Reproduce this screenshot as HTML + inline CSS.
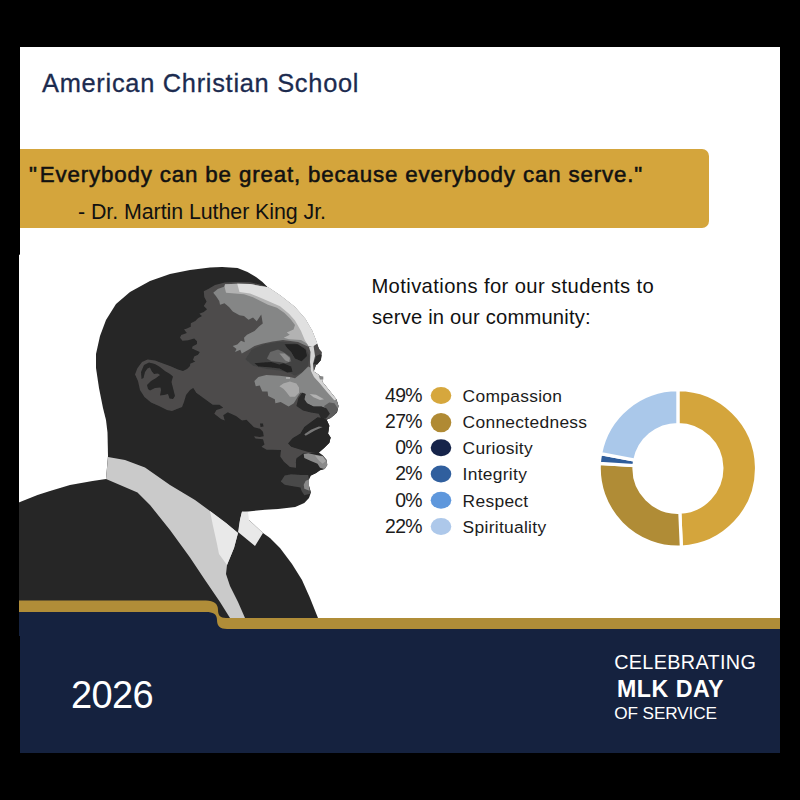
<!DOCTYPE html>
<html><head><meta charset="utf-8">
<style>
html,body{margin:0;padding:0;background:#000;}
body{width:800px;height:800px;position:relative;overflow:hidden;font-family:"Liberation Sans",sans-serif;}
#card{position:absolute;left:20px;top:47px;width:760px;height:706px;background:#fff;}
.t{position:absolute;white-space:nowrap;line-height:1;transform-origin:0 0;}
#banner{position:absolute;left:20px;top:149.2px;width:689px;height:78.4px;background:#d4a53c;border-radius:0 7px 7px 0;}
svg{position:absolute;left:0;top:0;}
.pc{font-size:19.4px;color:#1c1c1c;letter-spacing:-0.6px;}
.lb{font-size:17.4px;color:#1c1c1c;letter-spacing:0.3px;margin-top:0.7px;}
</style></head><body>
<div id="card"></div>
<div id="banner"></div>
<svg id="art" width="800" height="800" viewBox="0 0 800 800">
<rect x="19" y="254.7" width="2" height="380" fill="#fff"/>
<defs><filter id="soft" x="-5%" y="-5%" width="110%" height="110%"><feGaussianBlur stdDeviation="0.35"/></filter></defs>
<!-- PORTRAIT -->
<g id="portrait" filter="url(#soft)">
<polygon points="268,287.5 280.5,296 294.5,307 305,319 312,331 317,343.5 319,349 321.6,352 321,360 316,365 313.7,371.5 319,375 323,379 322.5,382 329.5,390.7 336.5,399.5 338.5,406 337,412.6 330.6,417.9 326.6,419.8 329.3,425.7 328,433.6 330.6,437.5 329.3,442.8 324,448 318.8,452.6 322.7,455.2 326.6,459.8 327.3,465 324.7,469 320,470.3 316.1,473 310.9,475.6 309,479.5 309,486 310.9,492.6 309,497.9 304.3,503 295.2,507 278.1,509 265,509.7 248,511.5 242,512 240,520 239,529 249,520 263,533 270,538 280,548 292,564 302,580 310,598 318,618 318,632 10,632 10,506 37.5,495 50,491 70,485 92.5,481 106,479 108,456 107.5,432.5 106,420 103,408 99,388 96,368 96,354 100,336 106,320 116,304 130,292 150,281 170,274 190,270 210,267.6 222,267 237.5,268 247.5,272 256,277 262.5,282" fill="#262626" />
<polygon points="108,457 125,460 145,467.5 170,485 195,500 210,511 226,523 238,533 234,548 227,565 226,574 230,586 238,602 245,618 247,632 236,632 230,618 220,602 205,580 190,557.5 170,530 150,505 137.5,492.5 120,485 106,479" fill="#cacaca" />
<polygon points="210,511 226,523 238,533 234,548 227,565 219,554 217,544 213,526" fill="#e9e9e9" />
<polygon points="242,511.6 248,512 249,520 263,533 255,546 238,532 240,520" fill="#e9e9e9" />
<polygon points="260,284.4 250,282.25 237.5,282 225,282.5 215,285 208.3,289 203.8,291.25 204.3,296.9 206.6,301.4 203.8,305.9 207.1,309.3 203.8,312 199.3,313.8 202,316 198,318.3 195.3,321 190.8,323.3 190.8,326.7 186.9,328.4 184,329.5 186.9,332.9 181.25,335 180,337.4 182.4,340.8 188,340.2 194.2,338.5 197,341.3 197,344 192.5,346.4 192,348.6 195.9,350.3 199.8,352 198,354.8 194.2,356.5 193,360 195.3,361.6 190.3,363.8 190,366 187,369 183,371 178,369.5 170,366 163,363.5 155,360.5 147.5,359.5 142,362 137.5,368 135,374.5 138,381 140,390 144.5,397 151,402.5 159,406 167,410 172,411 177,409 182,407 184,402 186,395 190,390 194,387.5 192.5,386.75 196.25,392.75 204.5,398.75 212.75,404.75 219.5,404.75 223.25,407.75 216.5,410 214.25,413.75 221,419 224.75,420.5 223.25,415.25 227.75,412.25 236,416 242,420.5 246.5,419.75 251,424.25 254,427.25 260,428.75 263,431.75 263.75,436.25 260,437 254,436.25 255.5,438.5 263,439.25 264.5,444.5 261.5,446.75 266.75,449.75 272,449.75 281,450 280.25,456.5 284,461.75 290,467 296,467.75 296.75,458 303,453.5 318.8,452.6 324,448 329.3,442.8 330.6,437.5 328,433.6 329.3,425.7 326.6,419.8 330.6,417.9 337,412.6 338.5,406 336.5,399.5 329.5,390.7 322.5,382 323,379 319,375 313.7,371.5 316,365 321,360 321.6,352 319,349 317,343.5 312,331 305,319 294.5,307 280.5,296 268,287.5" fill="#4d4c4c" />
<polygon points="213.25,292.75 217.75,289 224.5,286.5 225,284.2 237.5,283.8 250,284 260,286 268.3,287.2 280.8,295.7 294.8,306.7 305.3,318.7 312.3,330.8 317.3,343.5 309,347 298,342 283,340 272.5,341.5 262,343.75 254.5,346 248.5,349.75 241.75,353.5 240.25,349.75 235,352 236.5,349 232.75,346 237.25,344.5 241,340.75 244.75,342.25 244,337.75 247,334.75 254.5,331 259,326.5 262.75,323.5 261.25,314.5 256.75,321.25 253,317.5 248.5,319.75 244,316 239.5,315.25 232.75,311.5 229,307 224.5,303.25 220,304.75 219.25,301 216.25,296.5" fill="#858686" />
<polygon points="224.5,286.5 225,284.2 237.5,283.8 250,284 260,286 268.3,287.2 280.8,295.7 294.8,306.7 305.3,318.7 312.3,330.8 317.3,343.5 311,346 301,340 289,339.25 283.75,337.75 289.75,334.75 286.75,332.5 293.5,329.5 295,325 290.5,319 284.5,313 277,307.75 268,304.75 259,300.25 253,297.25 244,294.25 235,293.5 226,292.75" fill="#b2b2b2" />
<polygon points="237.25,283.8 250,284 260,286 268.3,287.2 280.8,295.7 294.8,306.7 305.3,318.7 312.3,330.8 317.3,343.5 313,346.5 308.5,346 304.75,340 301,331 295,320.5 289,313.75 280,306.25 268,301 257.5,296.5 250,293.5 239.5,292" fill="#e0e0e0" />
<polygon points="245.25,359.3 251.8,349.4 263.6,344.2 279.4,341.6 295,342.9 305.6,348.1 309.6,356 308.25,365.2 303,371.75 295,375.7 289.9,373 279.4,370.4 266.25,369.1 253,365.8" fill="#434343" />
<polygon points="284.6,344.2 297.75,344.2 305.6,349.4 307,356 301.7,361.25 295,358.6 291.2,352 287.25,348" fill="#212121" />
<polygon points="254.4,363.2 262.3,362.6 271.5,361.9 279.4,364.5 283.3,363.2 291.2,366.5 292.5,371.75 287.25,372.4 279.4,368.5 268.9,367.2 258.4,366.5" fill="#232323" />
<polygon points="266.9,358.6 270.2,352 278,349.4 283.3,352 289.9,356.7 291.2,361.25 285.9,363.2 279.4,361.9 271.5,361.25" fill="#666666" />
<polygon points="279.4,353.4 284.6,353.4 289.9,358 289.2,361.9 285.3,360.6" fill="#8e8e8e" />
<polygon points="254.4,380.9 258.4,377 266.25,375 279.4,375.7 289.9,377 295,378.3 301.7,373 308.25,366.5 310.9,367.8 313.7,371.5 319,375 323,379 322.5,382 329.5,390.7 336.5,399.5 338.5,406 337.8,408.5 326.6,408.5 321.4,406.5 313.5,406.5 307,403.25 304.3,399.3 305.6,394 302.3,392.75 300.4,392.75 297.75,396.7 293.8,403.25 288.6,406.5 280.7,402 275.4,403.25 274.8,399.3 268.2,396 267.6,391.4 262.3,391.4 259.7,385.5 255.75,386.2" fill="#858686" />
<polygon points="279.4,386.2 283.3,383.6 289.9,381.6 296.4,383.6 299,387.5 299,392.75 295,396.7 289.9,396.7 285.9,391.4 283.3,388.8" fill="#a9a9a9" />
<polygon points="286,377 290,377 290,379 286,379" fill="#a9a9a9" />
<polygon points="309,347 313.5,345.5 315,356 313,364 313.7,371.5 319,375 323,379 322.5,382 329.5,390.7 336.5,399.5 334.3,400.3 327,392 319.5,383 314,377 311,371 310,362 310.5,352" fill="#d4d4d4" />
<polygon points="318.75,375.7 323.3,376.5 323.3,379.6 320,379.5" fill="#858686" />
<polygon points="313.5,363.9 316.1,356 320,354.2 321.6,355 320.7,360 317.4,364.5" fill="#2b2b2b" />
<polygon points="309.6,394 316.1,394.7 324,399.3 320,400 313.5,397.3" fill="#b2b2b2" />
<polygon points="324,405.9 329.25,402.6 334.5,403.25 337.8,408.5 337,411 334.5,415 330.6,417.7 326,419 325.3,408.5" fill="#5c5c5c" />
<polygon points="296.4,405.9 298.4,398 302.3,392.75 305.6,394 304.3,399.3 307,403.25 313.5,406.5 321.4,406.5 326.6,408.5 329.9,413.75 326,418.5 321.4,419 318.75,413.75 310.9,412.4 303,410.5" fill="#292929" />
<polygon points="288,443.4 292.5,438.2 300.4,433.6 304.3,427 309.6,423.1 317.5,417.2 322.7,417.9 326.6,419.8 329.3,425.7 328,433.6 330.6,437.5 329.3,442.8 324,448 318.8,452.6 317.5,453.3 308.3,452 299.1,449.3 291.2,446.7" fill="#252525" />
<polygon points="304.3,434.3 310.9,429.7 318.8,426.4 322.7,427 314.8,430.6 305.7,435.8" fill="#777777" />
<polygon points="296.5,458.5 303,457.2 310.9,461.1 317.5,463.8 320,467.7 324,469 320,470.3 316.1,473 310.9,475.6 308.3,474.9 301.7,474.3 297.1,467.7 295.8,462.5" fill="#262626" />
<polygon points="303.7,453.9 308.3,453.3 317.5,455.2 322.7,455.9 326.6,460.5 327.3,465 324.7,469 324,469 320,467.7 317.5,463.8 310.9,461.1 304.3,457.9" fill="#8a8a8a" />
<polygon points="314.8,455.2 322.7,456.6 326,461.1 322.7,463.8 318.8,460.5" fill="#a5a5a5" />
<polygon points="280.7,481.5 284.7,475.6 291.2,474.3 301.7,474.9 308.3,474.9 309,479.5 309,486 310.9,492.6 309.6,493.9 304.3,495.2 301.7,491.3 300.4,487.4 291.2,486 284.7,484.75" fill="#484848" />
<polygon points="305.7,480.8 309,479.5 309,486 309.5,490.7 304.3,488.7 303.7,484.75" fill="#888888" />
<polygon points="141.5,379 141,372 144,365 149,362.5 155,364 160,367 165,371 170,374 173,376.5 171.5,382 173,388 174,392 175,396 173,399 169.5,398.5 168,394 164,395 160,395.5 161,390 160.5,387.5 155,388 150,390.5 148,389 147,385 151,381 156,378 160,375 158,373.5 154,374 151.5,371 150,367.5 147.5,368.5 145,372 143.5,378" fill="#262626" />
<polygon points="260,423.5 263,423.5 263.5,426.5 260.5,427" fill="#262626" />
</g>
<rect x="0" y="254.7" width="19" height="400" fill="#000"/>
<!-- FOOTER -->
<path d="M19 600.6 H206 C214 600.6 218 604 218 610 C218 615 220 618 226 618 H780 V753 H19 Z" fill="#b08d38"/>
<path d="M19 612 H206 C213 612 217 614 217 620 C217 626 220 629 227 629 H780 V753 H19 Z" fill="#15223f"/>
<rect x="18" y="636" width="2" height="120" fill="#000"/>
<!-- DOTS -->
<ellipse cx="441" cy="395.4" rx="10.3" ry="8.5" fill="#d6a73d"/>
<ellipse cx="441" cy="422.6" rx="10.3" ry="9.7" fill="#b08a34"/>
<ellipse cx="441" cy="447.8" rx="10.3" ry="8.5" fill="#16244a"/>
<ellipse cx="441" cy="474.0" rx="10.3" ry="8.5" fill="#305f9e"/>
<ellipse cx="441" cy="500.2" rx="10.3" ry="8.5" fill="#5e97dc"/>
<ellipse cx="441" cy="526.4" rx="10.3" ry="8.5" fill="#adc8ea"/>
<!-- DONUT -->
<g id="donut">
<path d="M677.90 389.70 A78.7 78.7 0 0 1 681.36 547.02 L679.83 512.26 A43.9 43.9 0 0 0 677.90 424.50 Z" fill="#d4a53c" stroke="#fff" stroke-width="3.2" stroke-linejoin="miter"/>
<path d="M681.36 547.02 A78.7 78.7 0 0 1 599.36 463.46 L634.09 465.64 A43.9 43.9 0 0 0 679.83 512.26 Z" fill="#b08c36" stroke="#fff" stroke-width="3.2" stroke-linejoin="miter"/>
<path d="M599.36 463.46 A78.7 78.7 0 0 1 600.59 453.65 L634.78 460.17 A43.9 43.9 0 0 0 634.09 465.64 Z" fill="#2f5d9b" stroke="#fff" stroke-width="3.2" stroke-linejoin="miter"/>
<path d="M600.59 453.65 A78.7 78.7 0 0 1 677.90 389.70 L677.90 424.50 A43.9 43.9 0 0 0 634.78 460.17 Z" fill="#aac8ea" stroke="#fff" stroke-width="3.2" stroke-linejoin="miter"/>
</g>
</svg>
<div class="t" id="hdr" style="left:42px;top:71px;font-size:25.4px;letter-spacing:0.72px;color:#1c2b4f;-webkit-text-stroke:0.3px #1c2b4f;">American Christian School</div>
<div class="t" id="q1" style="left:29px;top:163.7px;font-size:22.3px;letter-spacing:0.85px;color:#111;-webkit-text-stroke:0.55px #111;"><span style="margin-right:2px">"</span>Everybody can be great, because everybody can serve."</div>
<div class="t" id="q2" style="left:78px;top:201.8px;font-size:21.4px;letter-spacing:-0.06px;color:#111;">- Dr. Martin Luther King Jr.</div>
<div class="t" id="m1" style="left:371.4px;top:276px;font-size:20.2px;letter-spacing:0.4px;color:#111;">Motivations for our students to</div>
<div class="t" id="m2" style="left:372px;top:307.4px;font-size:20.2px;letter-spacing:0.2px;color:#111;">serve in our community:</div>
<div class="t" id="yr" style="left:71px;top:675.6px;font-size:38px;letter-spacing:-0.6px;color:#fff;">2026</div>
<div class="t" id="c1" style="left:614.2px;top:652.7px;font-size:19.8px;letter-spacing:0.35px;color:#fff;">CELEBRATING</div>
<div class="t" id="c2" style="left:617px;top:678px;font-size:23.2px;letter-spacing:0.5px;color:#fff;font-weight:bold;">MLK DAY</div>
<div class="t" id="c3" style="left:614.2px;top:704.6px;font-size:17.2px;letter-spacing:-0.1px;color:#fff;">OF SERVICE</div>
<div class="t pc" id="p0" style="right:378px;top:385.8px;">49%</div>
<div class="t lb" id="l0" style="left:462.6px;top:387.2px;">Compassion</div>
<div class="t pc" id="p1" style="right:378px;top:412.0px;">27%</div>
<div class="t lb" id="l1" style="left:462.6px;top:413.4px;">Connectedness</div>
<div class="t pc" id="p2" style="right:378px;top:438.2px;">0%</div>
<div class="t lb" id="l2" style="left:462.6px;top:439.6px;">Curiosity</div>
<div class="t pc" id="p3" style="right:378px;top:464.4px;">2%</div>
<div class="t lb" id="l3" style="left:462.6px;top:465.8px;">Integrity</div>
<div class="t pc" id="p4" style="right:378px;top:490.6px;">0%</div>
<div class="t lb" id="l4" style="left:462.6px;top:492.0px;">Respect</div>
<div class="t pc" id="p5" style="right:378px;top:516.8px;">22%</div>
<div class="t lb" id="l5" style="left:462.6px;top:518.2px;">Spirituality</div>
</body></html>
